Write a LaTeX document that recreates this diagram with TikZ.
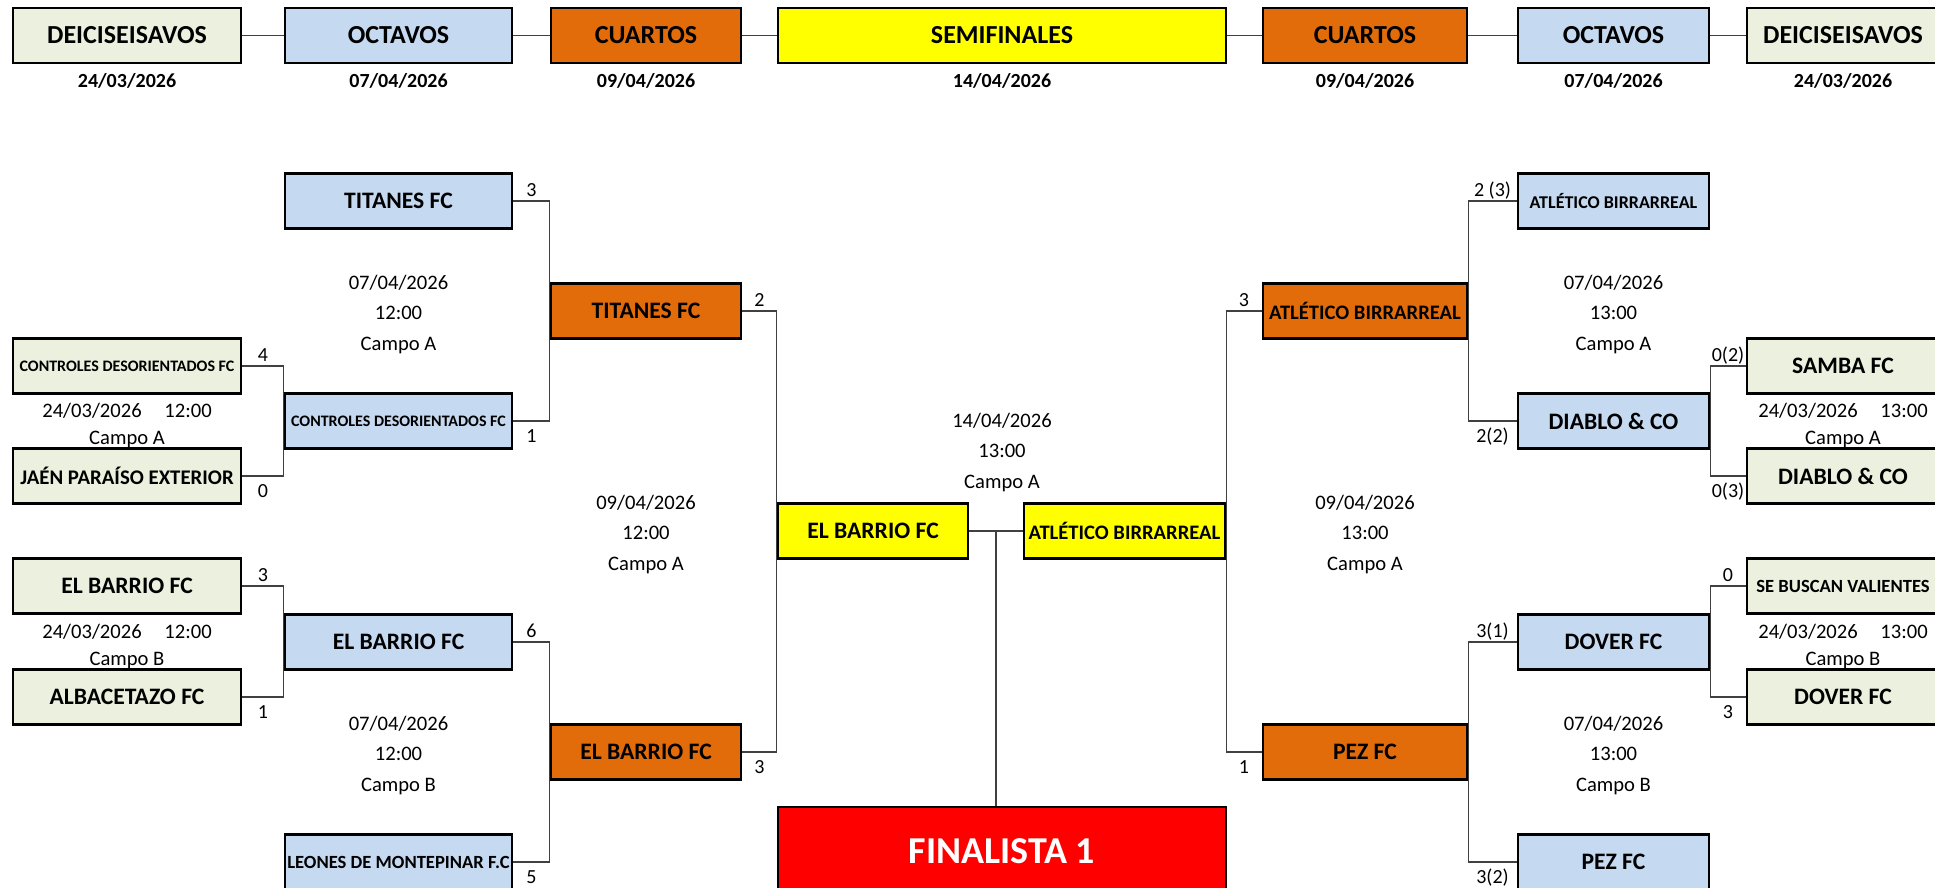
\documentclass[tikz,border=0pt]{standalone}
\usepackage{fontspec}
\setmainfont{Carlito}
\usetikzlibrary{positioning,backgrounds}

\definecolor{verde}{HTML}{EBF1DE}
\definecolor{azul}{HTML}{C5D9F1}
\definecolor{naranja}{HTML}{E26B0A}
\definecolor{amarillo}{HTML}{FFFF00}
\definecolor{rojo}{HTML}{FF0000}

\begin{document}
\begin{tikzpicture}[x=0.5pt,y=-0.5pt,every node/.style={inner sep=0pt},
	caja/.style={draw=black,line width=1.4pt,minimum height=27.5pt,font=\fontsize{11.8}{14}\selectfont\bfseries},
	dL/.style={caja,fill=verde,minimum width=114pt},
	oL/.style={caja,fill=azul,minimum width=113.5pt},
	cL/.style={caja,fill=naranja,minimum width=95pt},
	sL/.style={caja,fill=amarillo,minimum width=95pt},
	sR/.style={caja,fill=amarillo,minimum width=100.5pt},
	cR/.style={caja,fill=naranja,minimum width=102pt},
	oR/.style={caja,fill=azul,minimum width=95.5pt},
	dR/.style={caja,fill=verde,minimum width=96pt},
	fase/.style={font=\fontsize{13}{15}\selectfont\bfseries},
	fecha/.style={font=\fontsize{10}{12}\selectfont\bfseries},
	info/.style={align=center,font=\fontsize{10.3}{15.25}\selectfont},
	infod/.style={align=center,font=\fontsize{10.3}{13.5}\selectfont},
	marc/.style={font=\fontsize{10}{11}\selectfont,text height=7pt,text depth=2pt},
	linea/.style={draw=black!75,line width=0.65pt}]

	\clip (0,0) rectangle (1935,888);

	% cabecera
	\node[dL,fase] (H1) at (127,35.5) {DEICISEISAVOS};
	\node[oL,fase] (H2) at (398.5,35.5) {OCTAVOS};
	\node[cL,fase] (H3) at (646,35.5) {CUARTOS};
	\node[caja,fill=amarillo,minimum width=224pt,fase] (H4) at (1002,35.5) {SEMIFINALES};
	\node[cR,fase] (H5) at (1365,35.5) {CUARTOS};
	\node[oR,fase] (H6) at (1613.5,35.5) {OCTAVOS};
	\node[dR,fase] (H7) at (1843,35.5) {DEICISEISAVOS};

	\node[fecha, below=4.5pt of H1] {24/03/2026};
	\node[fecha, below=4.5pt of H2] {07/04/2026};
	\node[fecha, below=4.5pt of H3] {09/04/2026};
	\node[fecha, below=4.5pt of H4] {14/04/2026};
	\node[fecha, below=4.5pt of H5] {09/04/2026};
	\node[fecha, below=4.5pt of H6] {07/04/2026};
	\node[fecha, below=4.5pt of H7] {24/03/2026};

	% lado izquierdo
	\node[dL,font=\fontsize{8}{10}\selectfont\bfseries] (D1) at (127,366) {CONTROLES DESORIENTADOS FC};
	\node[dL,font=\fontsize{10.4}{12}\selectfont\bfseries] (D2) at (127,476) {JAÉN PARAÍSO EXTERIOR};
	\node[dL] (D3) at (127,586) {EL BARRIO FC};
	\node[dL] (D4) at (127,697) {ALBACETAZO FC};

	\node[oL] (O1) at (398.5,201) {TITANES FC};
	\node[oL,font=\fontsize{8}{10}\selectfont\bfseries] (O2) at (398.5,421) {CONTROLES DESORIENTADOS FC};
	\node[oL] (O3) at (398.5,642) {EL BARRIO FC};
	\node[oL,font=\fontsize{9.3}{11}\selectfont\bfseries] (O4) at (398.5,862) {LEONES DE MONTEPINAR F.C};

	\node[cL] (C1) at (646,311) {TITANES FC};
	\node[cL] (C2) at (646,752) {EL BARRIO FC};

	\node[sL] (S1) at (873,531) {EL BARRIO FC};

	% lado derecho
	\node[sR,font=\fontsize{10.3}{12}\selectfont\bfseries] (S2) at (1124.5,531) {ATLÉTICO BIRRARREAL};

	\node[cR,font=\fontsize{10.3}{12}\selectfont\bfseries] (C3) at (1365,311) {ATLÉTICO BIRRARREAL};
	\node[cR] (C4) at (1365,752) {PEZ FC};

	\node[oR,font=\fontsize{9}{11}\selectfont\bfseries] (O5) at (1613.5,201) {ATLÉTICO BIRRARREAL};
	\node[oR] (O6) at (1613.5,421) {DIABLO \& CO};
	\node[oR] (O7) at (1613.5,642) {DOVER FC};
	\node[oR] (O8) at (1613.5,862) {PEZ FC};

	\node[dR] (D5) at (1843,366) {SAMBA FC};
	\node[dR] (D6) at (1843,476) {DIABLO \& CO};
	\node[dR,font=\fontsize{9.3}{11}\selectfont\bfseries] (D7) at (1843,586) {SE BUSCAN VALIENTES};
	\node[dR] (D8) at (1843,697) {DOVER FC};

	\node[caja,fill=rojo,minimum width=224pt,minimum height=44pt,text=white,font=\fontsize{19}{22}\selectfont\bfseries] (F) at (1002,851) {FINALISTA 1};

	% fechas y campos
	\node[infod] at (127,426) {24/03/2026\hspace{1.1em}12:00\\Campo A};
	\node[infod] at (127,647) {24/03/2026\hspace{1.1em}12:00\\Campo B};
	\node[info] at (398.5,314.5) {07/04/2026\\12:00\\Campo A};
	\node[info] at (398.5,755.5) {07/04/2026\\12:00\\Campo B};
	\node[info] at (646,534.5) {09/04/2026\\12:00\\Campo A};
	\node[info] at (1002,452.5) {14/04/2026\\13:00\\Campo A};
	\node[info] at (1365,534.5) {09/04/2026\\13:00\\Campo A};
	\node[info] at (1613.5,314.5) {07/04/2026\\13:00\\Campo A};
	\node[info] at (1613.5,755.5) {07/04/2026\\13:00\\Campo B};
	\node[infod] at (1843,426) {24/03/2026\hspace{1.1em}13:00\\Campo A};
	\node[infod] at (1843,647) {24/03/2026\hspace{1.1em}13:00\\Campo B};

	\begin{scope}[on background layer]
	\draw[linea] (H1) -- (H2);
	\draw[linea] (H2) -- (H3);
	\draw[linea] (H3) -- (H4);
	\draw[linea] (H4) -- (H5);
	\draw[linea] (H5) -- (H6);
	\draw[linea] (H6) -- (H7);

	\draw[linea] (D1.east) -- node[marc,above=0pt] {4} (D1.east -| O2.west) -- (D2.east -| O2.west) -- node[marc,below=3.5pt] {0} (D2.east);
	\draw[linea] (D3.east) -- node[marc,above=0pt] {3} (D3.east -| O3.west) -- (D4.east -| O3.west) -- node[marc,below=3.5pt] {1} (D4.east);
	\draw[linea] (O1.east) -- node[marc,above=0pt] {3} (O1.east -| C1.west) -- (O2.east -| C1.west) -- node[marc,below=3.5pt] {1} (O2.east);
	\draw[linea] (O3.east) -- node[marc,above=0pt] {6} (O3.east -| C2.west) -- (O4.east -| C2.west) -- node[marc,below=3.5pt] {5} (O4.east);
	\draw[linea] (C1.east) -- node[marc,above=0pt] {2} (C1.east -| S1.west) -- (C2.east -| S1.west) -- node[marc,below=3.5pt] {3} (C2.east);

	\draw[linea] (C3.west) -- node[marc,above=0pt] {3} (C3.west -| S2.east) -- (C4.west -| S2.east) -- node[marc,below=3.5pt] {1} (C4.west);
	\draw[linea] (O5.west) -- node[marc,above=0pt] {2 (3)} (O5.west -| C3.east) -- (O6.west -| C3.east) -- node[marc,below=3.5pt] {2(2)} (O6.west);
	\draw[linea] (O7.west) -- node[marc,above=0pt] {3(1)} (O7.west -| C4.east) -- (O8.west -| C4.east) -- node[marc,below=3.5pt] {3(2)} (O8.west);
	\draw[linea] (D5.west) -- node[marc,above=0pt] {0(2)} (D5.west -| O6.east) -- (D6.west -| O6.east) -- node[marc,below=3.5pt] {0(3)} (D6.west);
	\draw[linea] (D7.west) -- node[marc,above=0pt] {0} (D7.west -| O7.east) -- (D8.west -| O7.east) -- node[marc,below=3.5pt] {3} (D8.west);

	\draw[linea] (S1.east) -- coordinate (M) (S2.west);
	\draw[linea] (M) -- (M |- F.north);
	\end{scope}
\end{tikzpicture}
\end{document}
